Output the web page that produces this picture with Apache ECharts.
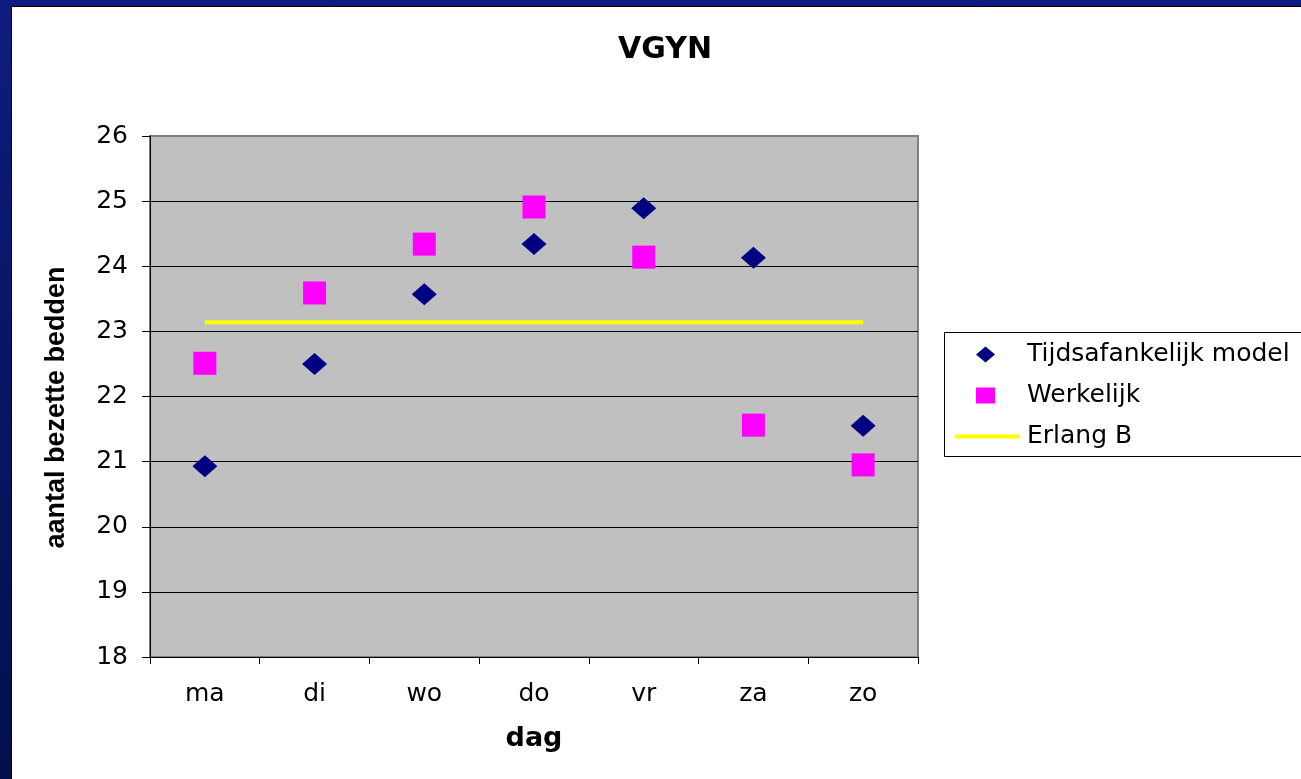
<!DOCTYPE html>
<html>
<head>
<meta charset="utf-8">
<script src="https://cdn.jsdelivr.net/npm/echarts@6/dist/echarts.min.js"></script>
<style>
html,body{margin:0;padding:0;background:#fff;}
#chart{width:1301px;height:779px;}
</style>
</head>
<body>
<div id="chart"></div>
<script>
const categories = ['ma', 'di', 'wo', 'do', 'vr', 'za', 'zo'];
const tijdsafhankelijk = [20.93, 22.50, 23.57, 24.34, 24.89, 24.13, 21.55];
const werkelijk = [22.51, 23.59, 24.34, 24.91, 24.14, 21.56, 20.95];
const erlangB = [23.14, 23.14, 23.14, 23.14, 23.14, 23.14, 23.14];
const seriesNames = ['Tijdsafankelijk model', 'Werkelijk', 'Erlang B'];
const yMin = 18, yMax = 26, yStep = 1;

const chart = echarts.init(document.getElementById('chart'), null, {renderer: 'canvas'});
const font = 'DejaVu Sans';
const legendText = {fontFamily: font, fontSize: 25, color: '#000'};
chart.setOption({
  animation: false,
  backgroundColor: '#ffffff',
  graphic: [
    {type: 'rect', z: -10, silent: true, shape: {x: 0, y: 0, width: 12, height: 779},
     style: {fill: new echarts.graphic.LinearGradient(0, 0, 0, 1, [{offset: 0, color: '#0e1c7e'}, {offset: 1, color: '#020f4a'}])}},
    {type: 'rect', z: -10, silent: true, shape: {x: 0, y: 0, width: 1301, height: 7},
     style: {fill: '#0e1c7e'}},
    {type: 'line', z: -9, silent: true, shape: {x1: 11.5, y1: 6, x2: 11.5, y2: 779}, style: {stroke: '#000', lineWidth: 1}},
    {type: 'line', z: -9, silent: true, shape: {x1: 11, y1: 6.5, x2: 1301, y2: 6.5}, style: {stroke: '#000', lineWidth: 1}},
    {type: 'rect', z: -5, silent: true, shape: {x: 944.5, y: 332.5, width: 400, height: 124},
     style: {fill: '#fff', stroke: '#000', lineWidth: 1}}
  ],
  title: {
    text: 'VGYN',
    left: 618,
    top: 35,
    padding: 0,
    textStyle: {fontFamily: font, fontWeight: 'bold', fontSize: 30, color: '#000'}
  },
  grid: {
    left: 150, right: 383, top: 136, bottom: 122,
    show: true, backgroundColor: '#c0c0c0', borderColor: '#808080', borderWidth: 2
  },
  legend: [
    {
      orient: 'vertical',
      left: 976,
      top: 342,
      padding: 0,
      itemGap: 16,
      itemWidth: 19,
      itemHeight: 16,
      data: [seriesNames[0], seriesNames[1]],
      textStyle: Object.assign({padding: [0, 0, 0, 27]}, legendText)
    },
    {
      orient: 'vertical',
      left: 955,
      top: 424,
      padding: 0,
      itemWidth: 65,
      itemHeight: 4,
      data: [{name: seriesNames[2], icon: 'rect'}],
      textStyle: Object.assign({padding: [0, 0, 0, 2]}, legendText)
    }
  ],
  xAxis: {
    type: 'category',
    data: categories,
    boundaryGap: true,
    name: 'dag',
    nameLocation: 'middle',
    nameGap: 68,
    nameTextStyle: {fontFamily: font, fontWeight: 'bold', fontSize: 27, color: '#000'},
    axisLine: {show: true, lineStyle: {color: '#000', width: 1}},
    axisTick: {show: true, alignWithLabel: false, length: 7, lineStyle: {color: '#000'}},
    axisLabel: {fontFamily: font, fontSize: 25, color: '#000', margin: 25},
    splitLine: {show: false}
  },
  yAxis: {
    type: 'value',
    min: yMin, max: yMax, interval: yStep,
    name: 'aantal bezette bedden',
    nameLocation: 'middle',
    nameRotate: 90,
    nameGap: 80,
    nameTextStyle: {fontFamily: 'Liberation Sans', fontWeight: 'bold', fontSize: 27, color: '#000', padding: [0, 22, 0, 0]},
    axisLine: {show: true, lineStyle: {color: '#000', width: 1}},
    axisTick: {show: true, length: 8, lineStyle: {color: '#000'}},
    axisLabel: {fontFamily: font, fontSize: 25, color: '#000', margin: 22},
    splitLine: {show: true, showMinLine: false, showMaxLine: false, lineStyle: {color: '#000', width: 1}}
  },
  series: [
    {
      name: seriesNames[0],
      type: 'scatter',
      data: tijdsafhankelijk,
      symbol: 'diamond',
      symbolSize: [25, 22],
      itemStyle: {color: '#000080', opacity: 1},
      z: 3
    },
    {
      name: seriesNames[1],
      type: 'scatter',
      data: werkelijk,
      symbol: 'rect',
      symbolSize: 23,
      itemStyle: {color: '#ff00ff', opacity: 1},
      z: 3
    },
    {
      name: seriesNames[2],
      type: 'line',
      data: erlangB,
      symbol: 'none',
      showSymbol: false,
      lineStyle: {color: '#ffff00', width: 4},
      itemStyle: {color: '#ffff00'},
      z: 2
    }
  ]
});
</script>
</body>
</html>
